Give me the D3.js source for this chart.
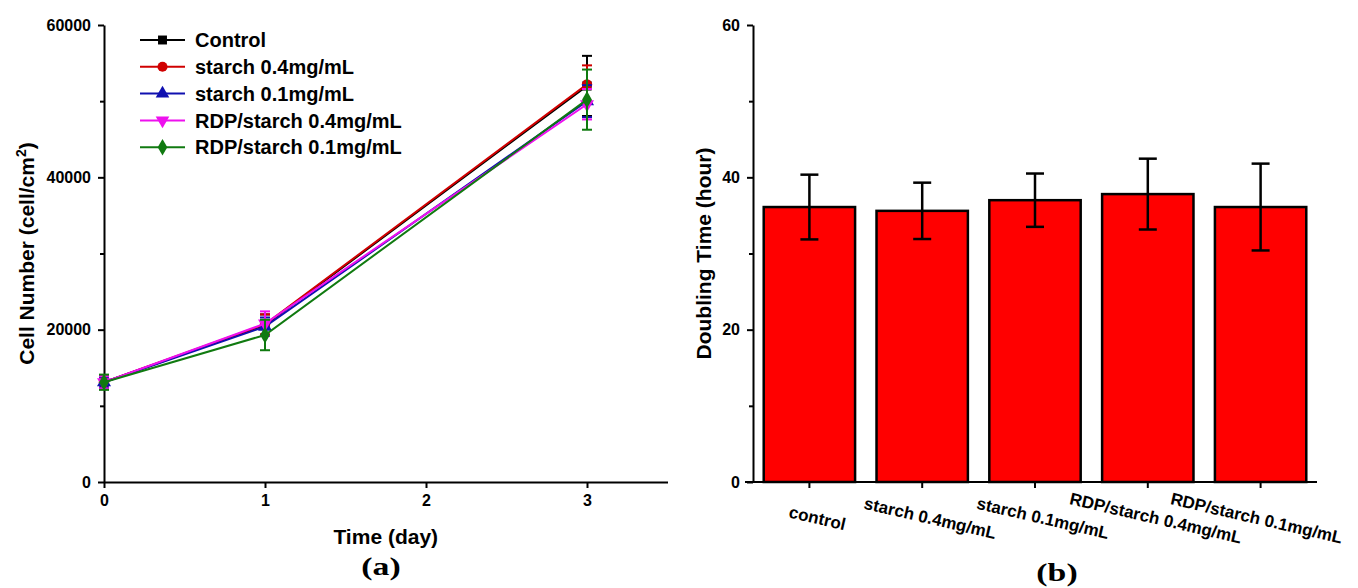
<!DOCTYPE html>
<html>
<head>
<meta charset="utf-8">
<script src="https://cdn.jsdelivr.net/npm/d3@7"></script>
<style>
	body { margin: 0; background: white; }
	svg text { font-family: "Liberation Sans", Arial, sans-serif; font-weight: bold; fill: black; }
	.domain, .tick line { stroke: black; stroke-width: 2; }
</style>
</head>
<body>
<svg id="chart" width="1358" height="588"></svg>
<script>

// ---- data: panel (a), cell growth ----
let days = [0, 1, 3];
let seriesNames = ["Control", "starch 0.4mg/mL", "starch 0.1mg/mL", "RDP/starch 0.4mg/mL", "RDP/starch 0.1mg/mL"];
let seriesColors = ["#000000", "#d00000", "#1010b0", "#ee10ee", "#107a10"];
let seriesSymbols = ["square", "circle", "triangle", "triangledown", "diamond"];
let controlValues = [13100, 20600, 52000];
let controlErrors = [900, 1400, 3950];
let starch04Values = [13100, 20700, 52200];
let starch04Errors = [800, 1300, 2500];
let starch01Values = [13100, 20400, 50000];
let starch01Errors = [700, 1200, 2100];
let rdp04Values = [13100, 20800, 49600];
let rdp04Errors = [800, 1600, 2000];
let rdp01Values = [13100, 19300, 50200];
let rdp01Errors = [1000, 2000, 3950];
let yTicksA = [0, 20000, 40000, 60000];
let xTicksA = [0, 1, 2, 3];

// ---- data: panel (b), doubling time ----
let groups = ["control", "starch 0.4mg/mL", "starch 0.1mg/mL", "RDP/starch 0.4mg/mL", "RDP/starch 0.1mg/mL"];
let doublingTime = [36.1, 35.6, 37.0, 37.8, 36.1];
let doublingErr = [4.25, 3.7, 3.5, 4.65, 5.7];
let yTicksB = [0, 20, 40, 60];


let svg = d3.select("#chart");

// Series table built from the arrays above.
let allValues = [controlValues, starch04Values, starch01Values, rdp04Values, rdp01Values];
let allErrors = [controlErrors, starch04Errors, starch01Errors, rdp04Errors, rdp01Errors];
let series = seriesNames.map((name,i)=>{
	return {
		name: name,
		color: seriesColors[i],
		symbol: seriesSymbols[i],
		points: days.map((d,j)=>({x: d, y: allValues[i][j], e: allErrors[i][j]}))
	}
}) // map


function symbolPath(kind, size){
	let types = {
		square: d3.symbolSquare,
		circle: d3.symbolCircle,
		triangle: d3.symbolTriangle,
		triangledown: d3.symbolTriangle,
		diamond: d3.symbolDiamond
	};
	return d3.symbol().type(types[kind]).size(size)();
} // symbolPath


// =================== panel (a) ===================
let xA = d3.scaleLinear().domain([0, 3.5]).range([104, 667.5]);
let yA = d3.scaleLinear().domain([0, 60000]).range([482, 25]);

let gA = svg.append("g");

gA.append("g")
  .attr("transform", "translate(0,482)")
  .call(d3.axisBottom(xA).tickValues(xTicksA).tickSize(6).tickSizeOuter(0).tickPadding(7).tickFormat(d3.format("d")))
  .call(g=>g.selectAll("text").attr("font-size", 16).attr("font-family", null))

gA.append("g")
  .attr("transform", "translate(104,0)")
  .call(d3.axisLeft(yA).tickValues(d3.range(0, 60001, 10000)).tickSize(6).tickSizeOuter(0).tickPadding(7)
    .tickFormat(d=>yTicksA.includes(d) ? d : ""))
  .call(g=>g.selectAll("text").attr("font-size", 16).attr("font-family", null))
  .call(g=>g.selectAll(".tick").filter(d=>!yTicksA.includes(d)).select("line").attr("x2", -4))

// axis titles
gA.append("text")
  .attr("x", xA(1.75)).attr("y", 544)
  .attr("text-anchor", "middle").attr("font-size", 21)
  .text("Time (day)")

let ytitleA = gA.append("text")
  .attr("transform", `translate(34,${yA(30000)}) rotate(-90)`)
  .attr("text-anchor", "middle").attr("font-size", 21)
ytitleA.append("tspan").text("Cell Number (cell/cm")
ytitleA.append("tspan").attr("font-size", 14).attr("dy", -8).text("2")
ytitleA.append("tspan").attr("dy", 8).text(")")

gA.append("text")
  .attr("transform", "translate(381,575) scale(1.3,1)")
  .attr("text-anchor", "middle").attr("font-size", 26)
  .style("font-family", "'Liberation Serif', 'DejaVu Serif', serif")
  .text("(a)")

// lines, error bars, markers
let line = d3.line().x(d=>xA(d.x)).y(d=>yA(d.y));

let sg = gA.append("g").attr("class", "data")
  .selectAll("g")
  .data(series)
  .enter()
  .append("g")

sg.append("path")
  .attr("d", d=>line(d.points))
  .attr("fill", "none")
  .attr("stroke", d=>d.color)
  .attr("stroke-width", 2)

sg.each(function(s){
	let g = d3.select(this);
	let eb = g.selectAll("g.err").data(s.points).enter().append("g").attr("class", "err");
	eb.append("line")
	  .attr("x1", d=>xA(d.x)).attr("x2", d=>xA(d.x))
	  .attr("y1", d=>yA(d.y-d.e)).attr("y2", d=>yA(d.y+d.e))
	  .attr("stroke", s.color).attr("stroke-width", 2)
	eb.selectAll("line.cap")
	  .data(d=>[d.y-d.e, d.y+d.e].map(v=>({x: d.x, v: v})))
	  .enter().append("line").attr("class", "cap")
	  .attr("x1", d=>xA(d.x)-5).attr("x2", d=>xA(d.x)+5)
	  .attr("y1", d=>yA(d.v)).attr("y2", d=>yA(d.v))
	  .attr("stroke", s.color).attr("stroke-width", 2)
	g.selectAll("path.marker").data(s.points).enter().append("path")
	  .attr("class", "marker")
	  .attr("d", symbolPath(s.symbol, 85))
	  .attr("transform", d=>`translate(${xA(d.x)},${yA(d.y)})` + (s.symbol=="triangledown" ? " rotate(180)" : ""))
	  .attr("fill", s.color)
}) // each

// legend
let legend = gA.append("g").attr("class", "legend")
  .selectAll("g")
  .data(series)
  .enter()
  .append("g")
  .attr("transform", (d,i)=>`translate(140,${40 + i*26.8})`)

legend.append("line")
  .attr("x1", 0).attr("x2", 45)
  .attr("stroke", d=>d.color).attr("stroke-width", 2)
legend.append("path")
  .attr("d", d=>symbolPath(d.symbol, 80))
  .attr("transform", d=>"translate(22.5,0)" + (d.symbol=="triangledown" ? " rotate(180)" : ""))
  .attr("fill", d=>d.color)
legend.append("text")
  .attr("x", 55).attr("dy", "0.36em")
  .attr("font-size", 20)
  .text(d=>d.name)


// =================== panel (b) ===================
let xB = d3.scaleBand().domain(groups).range([753, 1317]).paddingInner(0.19).paddingOuter(0.095);
let yB = d3.scaleLinear().domain([0, 60]).range([482, 25]);

let gB = svg.append("g");

gB.selectAll("rect.bar")
  .data(groups)
  .enter()
  .append("rect")
  .attr("class", "bar")
  .attr("x", d=>xB(d))
  .attr("width", xB.bandwidth())
  .attr("y", (d,i)=>yB(doublingTime[i]))
  .attr("height", (d,i)=>yB(0)-yB(doublingTime[i]))
  .attr("fill", "#ff0000")
  .attr("stroke", "black")
  .attr("stroke-width", 2.5)

let errB = gB.selectAll("g.err")
  .data(groups)
  .enter()
  .append("g")
  .attr("class", "err")

errB.append("line")
  .attr("x1", d=>xB(d)+xB.bandwidth()/2).attr("x2", d=>xB(d)+xB.bandwidth()/2)
  .attr("y1", (d,i)=>yB(doublingTime[i]-doublingErr[i])).attr("y2", (d,i)=>yB(doublingTime[i]+doublingErr[i]))
  .attr("stroke", "black").attr("stroke-width", 2.5)
errB.selectAll("line.cap")
  .data((d,i)=>[doublingTime[i]-doublingErr[i], doublingTime[i]+doublingErr[i]].map(v=>({g: d, v: v})))
  .enter().append("line").attr("class", "cap")
  .attr("x1", d=>xB(d.g)+xB.bandwidth()/2-9).attr("x2", d=>xB(d.g)+xB.bandwidth()/2+9)
  .attr("y1", d=>yB(d.v)).attr("y2", d=>yB(d.v))
  .attr("stroke", "black").attr("stroke-width", 2.5)

gB.append("g")
  .attr("transform", "translate(0,482)")
  .call(d3.axisBottom(xB).tickSize(6).tickSizeOuter(0).tickFormat(""))
  .call(g=>g.select(".domain").attr("d", "M745,0H1317"))

// category labels, slanted; the last one is pulled in a little so it stays inside the page
gB.selectAll("text.cat")
  .data(groups)
  .enter()
  .append("text")
  .attr("class", "cat")
  .attr("transform", (d,i)=>`translate(${xB(d)+xB.bandwidth()/2+(i==groups.length-1 ? -4 : 8)},518) rotate(13)`)
  .attr("text-anchor", "middle").attr("dy", "0.35em")
  .attr("font-size", 17)
  .text(d=>d)

gB.append("g")
  .attr("transform", "translate(753,0)")
  .call(d3.axisLeft(yB).tickValues(d3.range(0, 61, 10)).tickSize(6).tickSizeOuter(0).tickPadding(7)
    .tickFormat(d=>yTicksB.includes(d) ? d : ""))
  .call(g=>g.selectAll("text").attr("font-size", 16).attr("font-family", null))
  .call(g=>g.selectAll(".tick").filter(d=>!yTicksB.includes(d)).select("line").attr("x2", -4))

gB.append("text")
  .attr("transform", `translate(711,${yB(30)}) rotate(-90)`)
  .attr("text-anchor", "middle").attr("font-size", 21)
  .text("Doubling Time (hour)")

gB.append("text")
  .attr("transform", "translate(1057,581) scale(1.3,1)")
  .attr("text-anchor", "middle").attr("font-size", 26)
  .style("font-family", "'Liberation Serif', 'DejaVu Serif', serif")
  .text("(b)")

</script>
</body>
</html>
